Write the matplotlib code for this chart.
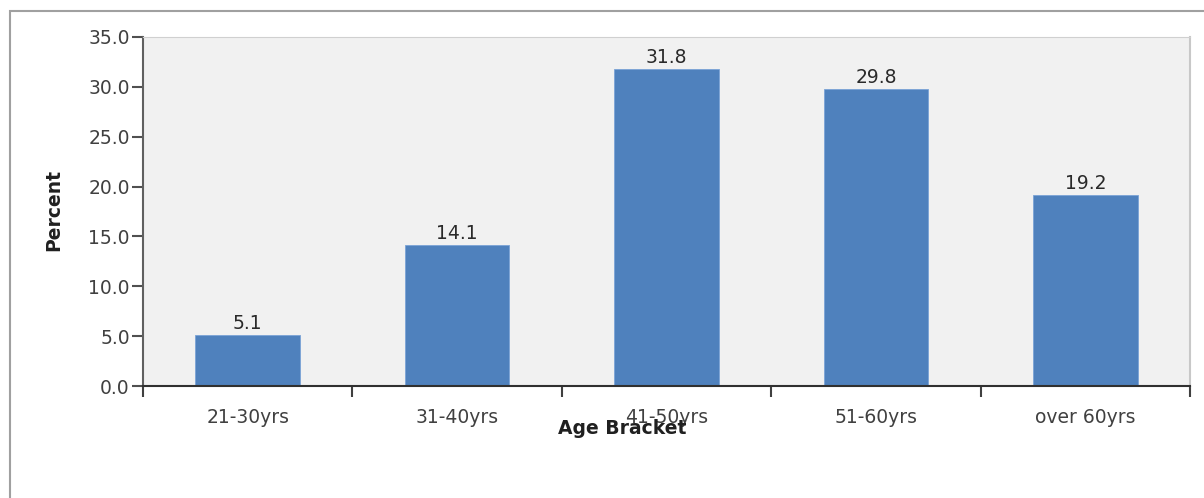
import matplotlib.pyplot as plt
from matplotlib.patches import Rectangle
import numpy as np

categories = ["21-30yrs", "31-40yrs", "41-50yrs", "51-60yrs", "over 60yrs"]
percent = [5.1, 14.1, 31.8, 29.8, 19.2]
yticks = [0, 5, 10, 15, 20, 25, 30, 35]

plt.rcParams['font.family'] = ['DejaVu Sans']

fig = plt.figure(figsize=(12.04, 4.98), dpi=100)
W, H = 1204, 498
# axes from pixel box: left 143, right 1190, top 37, bottom 386
ax = fig.add_axes([143 / W, 1 - 386 / H, (1190 - 143) / W, (386 - 37) / H])

# outer frame of the chart image (right/bottom edges fall outside)
fig.patches.append(Rectangle((10 / W, -0.1), 1.2, 1 - 11 / H + 0.1, transform=fig.transFigure,
                             fill=False, edgecolor='#a0a0a0', linewidth=1.5))

ax.set_facecolor('#f1f1f1')
x = np.arange(len(categories))
ax.bar(x, percent, width=0.5, color='#4f81bd', edgecolor='#7aa3d6', linewidth=0.6, zorder=2)

for xi, v in zip(x, percent):
    ax.text(xi, v + 0.2, f"{v:.1f}", ha='center', va='bottom', fontsize=13.5, color='#2a2a2a')

ax.set_xlim(-0.5, len(categories) - 0.5)
ax.set_ylim(0, 35)
ax.set_yticks(yticks)
ax.set_yticklabels([f"{t:.1f}" for t in yticks], fontsize=13.5, color='#404040')

ax.set_xticks(np.arange(len(categories) + 1) - 0.5)
ax.set_xticklabels([])
ax.set_xticks(x, minor=True)
ax.set_xticklabels(categories, minor=True, fontsize=13.5, color='#404040')
ax.tick_params(axis='x', which='minor', length=0, pad=16)
ax.tick_params(axis='x', which='major', length=8, width=1.5, color='#404040', direction='out')
ax.tick_params(axis='y', length=8, width=1.5, color='#505050', pad=1.5)

ax.spines['left'].set_color('#606060')
ax.spines['left'].set_linewidth(1.5)
ax.spines['bottom'].set_color('#303030')
ax.spines['bottom'].set_linewidth(1.5)
ax.spines['top'].set_color('#d0d0d0')
ax.spines['right'].set_color('#c8c8c8')
ax.spines['right'].set_linewidth(1.5)

# in the source chart the axis title sits on top of the middle tick label
fig.text(622 / W, 1 - 428 / H, "Age Bracket", ha='center', va='center',
         fontsize=13.5, fontweight='bold', color='#202020')
fig.text(54 / W, 1 - 210 / H, "Percent", ha='center', va='center', rotation=90,
         fontsize=13.5, fontweight='bold', color='#202020')

fig.savefig("out.png", dpi=100)
